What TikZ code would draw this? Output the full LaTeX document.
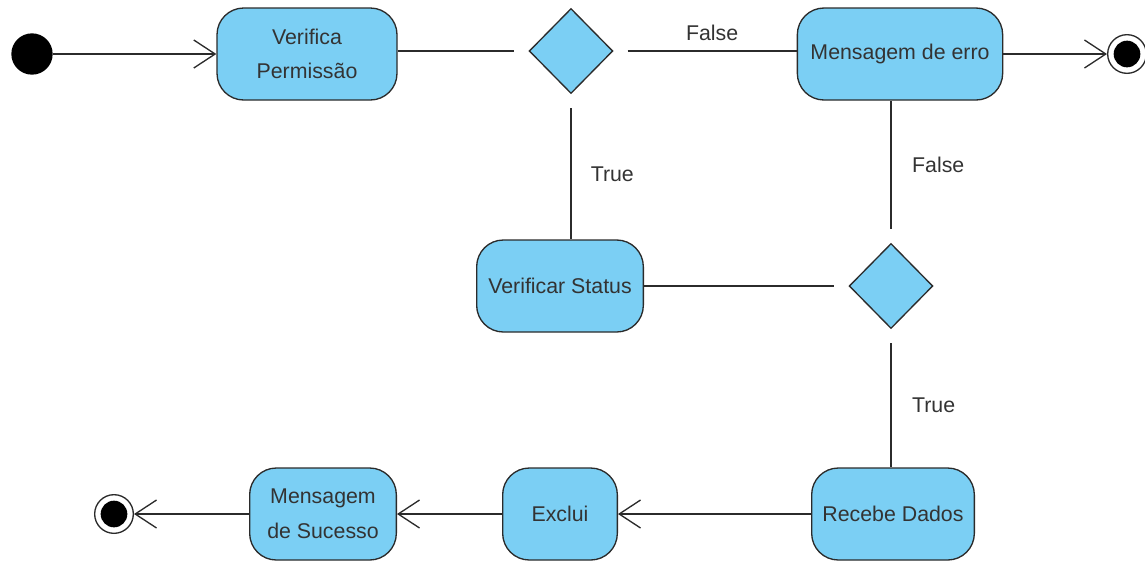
\documentclass[tikz,border=0pt]{standalone}
\usepackage{fontspec}
\setmainfont{Liberation Sans}
\usepackage{xcolor}
\usepackage{tikz}
\usetikzlibrary{arrows.meta,shapes.geometric}
\definecolor{actfill}{HTML}{7BCFF4}
\definecolor{edgec}{HTML}{2B2B2B}
\definecolor{txtc}{HTML}{333333}
\tikzset{
  ar/.style={-{Straight Barb[length=16pt,width=21pt,line width=1pt]},line width=1pt,edgec},
  ln/.style={line width=1pt,edgec},
  act/.style={draw=edgec,line width=1pt,rounded corners=20pt,fill=actfill,align=center,minimum height=69pt,inner sep=2pt,text=txtc,font=\fontsize{16}{25}\selectfont},
  dec/.style={diamond,draw=edgec,line width=1pt,fill=actfill,minimum width=69pt,minimum height=70pt,inner sep=0pt,outer sep=8pt},
  ini/.style={circle,fill=black,minimum size=31pt,inner sep=0pt},
  fin/.style={circle,draw=edgec,line width=1pt,fill=white,minimum size=29pt,inner sep=0pt,
    path picture={\fill[black] (path picture bounding box.center) circle (10pt);}},
  lbl/.style={font=\fontsize{16}{19}\selectfont,text=txtc}
}
\begin{document}
\begin{tikzpicture}[x=0.75pt,y=-0.75pt]
\useasboundingbox (0,0) rectangle (1145,562);
% top row
\node[ini] (start) at (32,54) {};
\node[act,minimum width=135pt] (verif) at (307,54) {Verifica\\Permissão};
\node[dec] (dec1) at (571,51) {};
\node[act,minimum width=154pt] (erro) at (900,54) {Mensagem de erro};
\node[fin] (end1) at (1127,54) {};
% middle row
\node[act,minimum width=125pt] (status) at (560,286) {Verificar Status};
\node[dec] (dec2) at (891,286) {};
% bottom row
\node[act,minimum width=122pt] (recebe) at (893,514) {Recebe Dados};
\node[act,minimum width=86pt] (exclui) at (560,514) {Exclui};
\node[act,minimum width=110pt,font=\fontsize{16}{26}\selectfont] (sucesso) at (323,514) {Mensagem\\de Sucesso};
\node[fin] (end2) at (114,514) {};
% flows
\draw[ar] (start) -- (verif);
\draw[ln] (verif.east |- dec1.west) -- (dec1.west);
\draw[ln] (dec1.east) -- node[lbl,above=4pt] {False} (dec1.east -| erro.west);
\draw[ar] (erro) -- (end1);
\draw[ln] (dec1.south) -- node[lbl,right=11pt] {True} (dec1.south |- status.north);
\draw[ln] (status) -- (dec2);
\draw[ln] (dec2.north) -- node[lbl,right=12pt] {False} (dec2.north |- erro.south);
\draw[ln] (dec2.south) -- node[lbl,right=12pt] {True} (dec2.south |- recebe.north);
\draw[ar] (recebe) -- (exclui);
\draw[ar] (exclui) -- (sucesso);
\draw[ar] (sucesso) -- (end2);
\end{tikzpicture}
\end{document}
